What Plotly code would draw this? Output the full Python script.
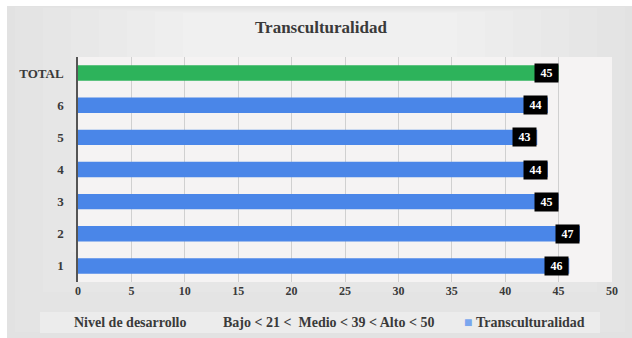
import plotly.graph_objects as go

# Development level scores per group, plus the overall total
categories = ["1", "2", "3", "4", "5", "6", "TOTAL"]
scores = [46, 47, 45, 44, 43, 44, 45]
bar_colors = ["#4a86e8"] * 6 + ["#2db35b"]
x_ticks = [0, 5, 10, 15, 20, 25, 30, 35, 40, 45, 50]

W, H = 632, 338
ML, MR, MT, MB = 78, 20, 57, 56
PW, PH = W - ML - MR, H - MT - MB


def px_x(p):
    return (p - ML) / PW


def px_y(p):
    return (H - MB - p) / PH


SERIF = "Liberation Serif, Times New Roman, serif"
TXT = "#3a3a3a"

fig = go.Figure()
fig.add_trace(go.Bar(
    y=categories, x=scores, orientation="h",
    marker=dict(color=bar_colors, line=dict(width=0)),
    width=0.48, name="Transculturalidad", showlegend=False,
))

# value boxes sitting at the inner end of each bar
annotations = []
for i, v in enumerate(scores):
    annotations.append(dict(
        x=v, y=i, xref="x", yref="y", text=f"<b>{v}</b>", showarrow=False,
        xanchor="right", yanchor="middle", xshift=0,
        width=17, height=12, align="center", valign="middle",
        font=dict(family=SERIF, size=12, color="white"),
        bgcolor="#000000", borderpad=3,
    ))

# legend strip text
annotations += [
    dict(x=px_x(130), y=px_y(322), xref="paper", yref="paper",
         text="<b>Nivel de desarrollo</b>", showarrow=False,
         xanchor="center", yanchor="middle",
         font=dict(family=SERIF, size=14, color=TXT)),
    dict(x=px_x(328), y=px_y(322), xref="paper", yref="paper",
         text="<b>Bajo &lt; 21 &lt;  Medio &lt; 39 &lt; Alto &lt; 50</b>",
         showarrow=False, xanchor="center", yanchor="middle",
         font=dict(family=SERIF, size=14, color=TXT)),
    dict(x=px_x(462), y=px_y(322), xref="paper", yref="paper",
         text="<span style='color:#7aa6ee'>■</span> <b>Transculturalidad</b>",
         showarrow=False, xanchor="left", yanchor="middle",
         font=dict(family=SERIF, size=14, color=TXT)),
]

# chart area: soft light gradient toward the top centre
shapes = [
    dict(type="rect", xref="paper", yref="paper", layer="below",
         x0=px_x(7), x1=px_x(W), y0=px_y(H), y1=px_y(6),
         fillcolor="#e2e2e2", line=dict(width=0)),
]
steps = ["#e4e4e4", "#e6e6e6", "#e8e8e8", "#eaeaea", "#ececec", "#eeeeee", "#f0f0f0"]
for k, col in enumerate(steps):
    shapes.append(dict(
        type="rect", xref="paper", yref="paper", layer="below",
        x0=px_x(15 + k * 28), x1=px_x(625 - k * 28),
        y0=px_y(332 - k * 40), y1=px_y(7 + k * 1),
        fillcolor=col, line=dict(width=0)))
shapes += [
    # plot area
    dict(type="rect", xref="paper", yref="paper", layer="below",
         x0=0, x1=1, y0=0, y1=1,
         fillcolor="#f5f3f3", line=dict(width=0)),
    # legend strip
    dict(type="rect", xref="paper", yref="paper", layer="below",
         x0=px_x(40), x1=px_x(600), y0=px_y(333), y1=px_y(312),
         fillcolor="#ececec", line=dict(width=0)),
]

fig.update_layout(
    width=W, height=H,
    margin=dict(l=ML, r=MR, t=MT, b=MB),
    paper_bgcolor="#ffffff", plot_bgcolor="rgba(0,0,0,0)",
    title=dict(text="<b>Transculturalidad</b>", x=321 / W, xanchor="center",
               y=1 - 27 / H, yanchor="middle",
               font=dict(family=SERIF, size=17, color=TXT)),
    xaxis=dict(range=[0, 50], tickvals=x_ticks, ticktext=[f"<b>{t}</b>" for t in x_ticks],
               showgrid=True, gridcolor="#d0d0d0", gridwidth=1,
               zeroline=False, showline=False, ticks="",
               tickfont=dict(family=SERIF, size=12, color=TXT)),
    yaxis=dict(type="category", range=[-0.5, 6.5], showgrid=False, zeroline=False,
               showline=True, linecolor="#555555", linewidth=1.5,
               ticks="", ticklabelstandoff=10,
               tickvals=categories, ticktext=[f"<b>{c}</b>" for c in categories],
               tickfont=dict(family=SERIF, size=13, color=TXT)),
    bargap=0.52,
    showlegend=False,
    annotations=annotations,
    shapes=shapes,
)

fig.write_html("out.html")
